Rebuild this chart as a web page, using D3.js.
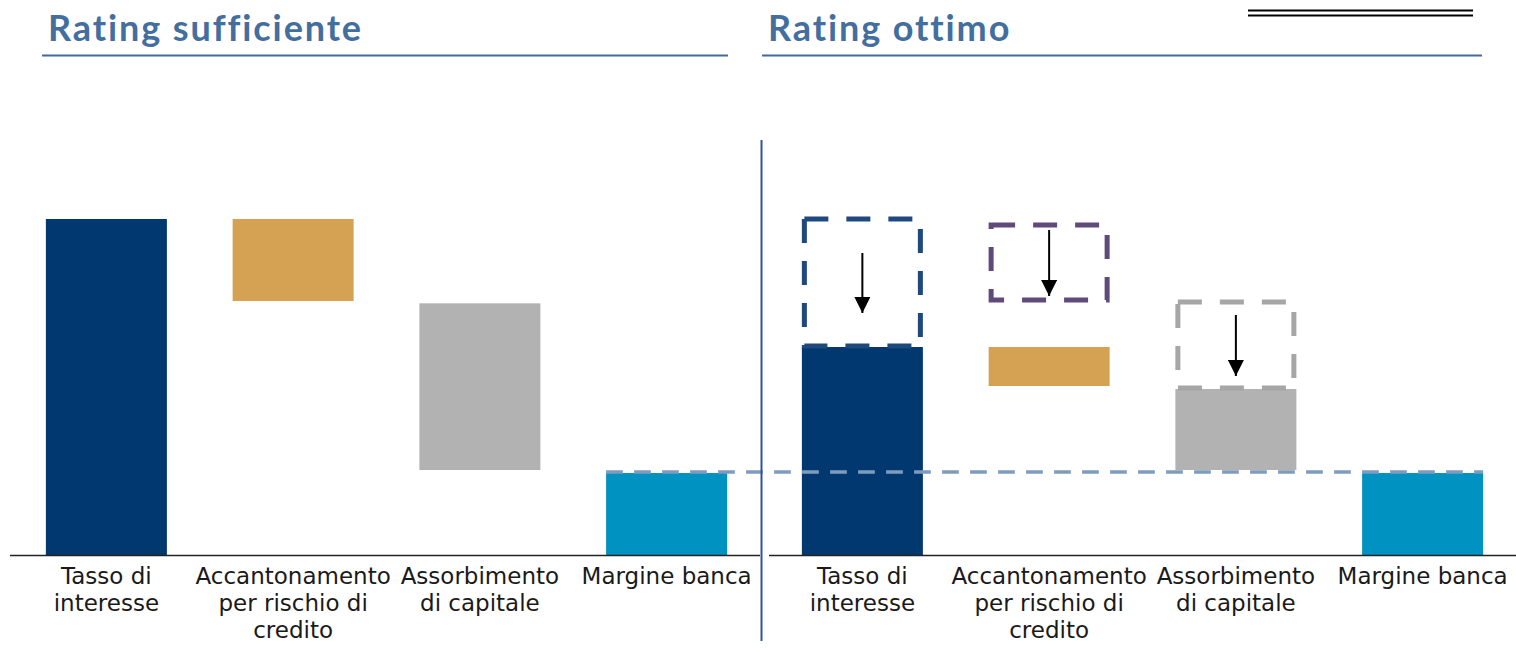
<!DOCTYPE html>
<html>
<head>
<meta charset="utf-8">
<script src="https://cdn.jsdelivr.net/npm/d3@7"></script>
<style>
  body { margin: 0; background: #fff; }
  svg { display: block; }
</style>
</head>
<body>
<div id="container"></div>
<script>
// Chart dimensions
const width = 1516;
const height = 661;

// Data
const categories = ["Tasso di interesse", "Accantonamento per rischio di credito", "Assorbimento di capitale", "Margine banca"];
const labelLines = [["Tasso di", "interesse"], ["Accantonamento", "per rischio di", "credito"], ["Assorbimento", "di capitale"], ["Margine banca"]];
const titles = ["Rating sufficiente", "Rating ottimo"];
// bar ranges [low, high] per panel
const lowSuff = [0, 75.6, 25.3, 0];
const highSuff = [100, 100, 74.9, 24.4];
const lowOtt = [0, 50.3, 25.3, 0];
const highOtt = [61.9, 61.9, 49.4, 24.4];
// dashed "before" boxes in the second panel (null = none)
const boxLowOtt = [61.9, 75.6, 49.4, null];
const boxHighOtt = [100, 98.2, 75.3, null];
const marginLevel = 24.7;

const barColors = ["#00386F", "#D5A253", "#B2B2B2", "#0092C0"];
const boxColors = ["#1F497D", "#604A7B", "#A6A6A6", null];

const svg = d3.select("#container").append("svg")
	.attr("width", width)
	.attr("height", height);

const y = d3.scaleLinear()
	.domain([0, 100])
	.range([555, 219]);

const panels = [
	{x0: 13, x1: 760, lows: lowSuff, highs: highSuff, title: titles[0], tx: 48, ux0: 42, ux1: 728},
	{x0: 769, x1: 1516, lows: lowOtt, highs: highOtt, title: titles[1], tx: 768, ux0: 762, ux1: 1482}
];

panels.forEach((p, pi) => {
	const x = d3.scaleBand()
		.domain(categories)
		.range([p.x0, p.x1])
		.paddingInner(0.352)
		.paddingOuter(0.176);
	p.x = x;

	const g = svg.append("g");

	// Title and underline
	g.append("text")
		.attr("x", p.tx)
		.attr("y", 41)
		.attr("font-family", "Lato, 'DejaVu Sans', sans-serif")
		.attr("font-weight", "bold")
		.attr("font-size", 36)
		.attr("letter-spacing", 1.9)
		.attr("fill", "#436EA0")
		.text(p.title);

	g.append("line")
		.attr("x1", p.ux0).attr("x2", p.ux1)
		.attr("y1", 55.5).attr("y2", 55.5)
		.attr("stroke", "#436A9C")
		.attr("stroke-width", 2);

	// Bars
	g.selectAll(".bar")
		.data(categories)
		.join("rect")
			.attr("class", "bar")
			.attr("x", d => x(d))
			.attr("width", x.bandwidth())
			.attr("y", (d, i) => y(p.highs[i]))
			.attr("height", (d, i) => y(p.lows[i]) - y(p.highs[i]))
			.attr("fill", (d, i) => barColors[i]);

	// Baseline
	g.append("line")
		.attr("x1", p.x0 - (pi === 0 ? 3 : 0)).attr("x2", p.x1)
		.attr("y1", y(0) + 0.5).attr("y2", y(0) + 0.5)
		.attr("stroke", "#222")
		.attr("stroke-width", 1.5);

	// Category labels
	const lab = g.selectAll(".lab")
		.data(categories)
		.join("text")
			.attr("class", "lab")
			.attr("x", d => x(d) + x.bandwidth() / 2)
			.attr("y", 584)
			.attr("text-anchor", "middle")
			.attr("font-family", "'DejaVu Sans', sans-serif")
			.attr("font-size", 23)
			.attr("fill", "#1a1a1a");
	lab.selectAll("tspan")
		.data((d, i) => labelLines[i])
		.join("tspan")
			.attr("x", function() { return d3.select(this.parentNode).attr("x"); })
			.attr("dy", (d, j) => j === 0 ? 0 : 27)
			.text(d => d);
});

// Dashed boxes and arrows in the second panel
const px = panels[1].x;
const boxIdx = categories.map((d, i) => i).filter(i => boxLowOtt[i] !== null);
const arrowLen = [60, 66, 61];

svg.append("defs").append("marker")
	.attr("id", "arrow")
	.attr("viewBox", "0 0 10 10")
	.attr("refX", 10).attr("refY", 5)
	.attr("markerWidth", 8).attr("markerHeight", 8)
	.attr("markerUnits", "strokeWidth")
	.attr("orient", "auto")
	.append("path")
		.attr("d", "M0,0 L10,5 L0,10 Z")
		.attr("fill", "#000");

svg.selectAll(".box")
	.data(boxIdx)
	.join("rect")
		.attr("class", "box")
		.attr("x", i => px(categories[i]) + 2.5)
		.attr("width", px.bandwidth() - 5)
		.attr("y", i => y(boxHighOtt[i]))
		.attr("height", i => y(boxLowOtt[i]) - y(boxHighOtt[i]) - 1)
		.attr("fill", "none")
		.attr("stroke", i => boxColors[i])
		.attr("stroke-width", 5)
		.attr("stroke-dasharray", "24,18");

svg.selectAll(".arrow")
	.data(boxIdx)
	.join("line")
		.attr("class", "arrow")
		.attr("x1", i => px(categories[i]) + px.bandwidth() / 2)
		.attr("x2", i => px(categories[i]) + px.bandwidth() / 2)
		.attr("y1", (i, k) => {
			const mid = (y(boxHighOtt[i]) + y(boxLowOtt[i])) / 2;
			return mid - arrowLen[k] / 2;
		})
		.attr("y2", (i, k) => {
			const mid = (y(boxHighOtt[i]) + y(boxLowOtt[i])) / 2;
			return mid + arrowLen[k] / 2;
		})
		.attr("stroke", "#000")
		.attr("stroke-width", 2)
		.attr("marker-end", "url(#arrow)");

// Dashed margin reference line
svg.append("line")
	.attr("x1", panels[0].x(categories[3]))
	.attr("x2", px(categories[3]) + px.bandwidth())
	.attr("y1", y(marginLevel)).attr("y2", y(marginLevel))
	.attr("stroke", "#7F9CBF")
	.attr("stroke-width", 3.5)
	.attr("stroke-dasharray", "16.7,11.3");

// Vertical divider
svg.append("line")
	.attr("x1", 761.5).attr("x2", 761.5)
	.attr("y1", 140).attr("y2", 641)
	.attr("stroke", "#2F5597")
	.attr("stroke-width", 2);

// Double line top right
[10.5, 15.5].forEach(yy => {
	svg.append("line")
		.attr("x1", 1248).attr("x2", 1473)
		.attr("y1", yy).attr("y2", yy)
		.attr("stroke", "#000")
		.attr("stroke-width", 2);
});
</script>
</body>
</html>
